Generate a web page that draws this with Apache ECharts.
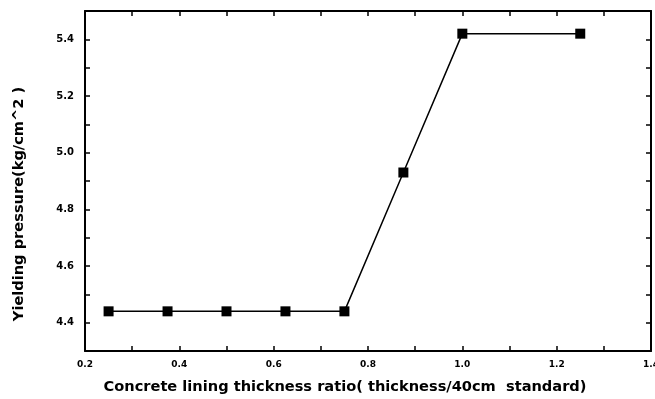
<!DOCTYPE html>
<html>
<head>
<meta charset="utf-8">
<script src="https://cdn.jsdelivr.net/npm/echarts@6/dist/echarts.min.js"></script>
<style>
  html, body { margin: 0; padding: 0; background: #fff; }
  #chart { width: 655px; height: 399px; }
</style>
</head>
<body>
<div id="chart"></div>
<script>
// Thickness ratio (thickness / 40 cm standard) and the yielding pressure reached
var thicknessRatio = [0.25, 0.375, 0.5, 0.625, 0.75, 0.875, 1.0, 1.25];
var yieldingPressure = [4.44, 4.44, 4.44, 4.44, 4.44, 4.93, 5.42, 5.42];
var xTickLabels = ['0.2', '0.4', '0.6', '0.8', '1.0', '1.2', '1.4'];
var yTickLabels = ['4.4', '4.6', '4.8', '5.0', '5.2', '5.4'];

var xTitle = 'Concrete lining thickness ratio( thickness/40cm  standard)';
var yTitle = 'Yielding pressure(kg/cm^2 )';

var FONT = '"DejaVu Sans", Arial, sans-serif';

function labelFor(list, v) {
  var s = v.toFixed(1);
  return list.indexOf(s) >= 0 ? s : '';
}

var points = thicknessRatio.map(function (x, i) { return [x, yieldingPressure[i]]; });

var tickBase = { show: true, inside: true, length: 5, lineStyle: { color: '#000', width: 1.5 } };
var lineBase = { show: true, onZero: false, lineStyle: { color: '#000', width: 2 } };

var chart = echarts.init(document.getElementById('chart'), null, { renderer: 'canvas' });
chart.setOption({
  animation: false,
  backgroundColor: '#fff',
  grid: { left: 85, top: 11, right: 4, bottom: 48, outerBoundsMode: 'none', containLabel: false },
  xAxis: [{
    type: 'value', min: 0.2, max: 1.4, interval: 0.1,
    axisLine: lineBase, axisTick: tickBase, splitLine: { show: false },
    axisLabel: {
      margin: 9, color: '#000', fontFamily: FONT, fontWeight: 'bold', fontSize: 9,
      showMaxLabel: true, hideOverlap: false,
      formatter: function (v) { return labelFor(xTickLabels, v); }
    }
  }, {
    type: 'value', position: 'top', min: 0.2, max: 1.4, interval: 0.1,
    axisLine: lineBase, axisTick: tickBase, axisLabel: { show: false }, splitLine: { show: false }
  }],
  yAxis: [{
    type: 'value', min: 4.3, max: 5.5, interval: 0.1,
    axisLine: lineBase, axisTick: tickBase, splitLine: { show: false },
    axisLabel: {
      margin: 11, color: '#000', fontFamily: FONT, fontWeight: 'bold', fontSize: 10,
      formatter: function (v) { return labelFor(yTickLabels, v); }
    }
  }, {
    type: 'value', position: 'right', min: 4.3, max: 5.5, interval: 0.1,
    axisLine: lineBase, axisTick: tickBase, axisLabel: { show: false }, splitLine: { show: false }
  }],
  graphic: [{
    type: 'text', x: 345, y: 380,
    style: { text: xTitle, fill: '#000', font: 'bold 14.6px ' + FONT, align: 'center', verticalAlign: 'top' }
  }, {
    type: 'text', x: 12, y: 204, rotation: Math.PI / 2,
    style: { text: yTitle, fill: '#000', font: 'bold 14.6px ' + FONT, align: 'center', verticalAlign: 'top' }
  }],
  series: [{
    type: 'line',
    data: points,
    symbol: 'rect',
    symbolSize: 10,
    itemStyle: { color: '#000' },
    lineStyle: { color: '#000', width: 1.5 }
  }]
});
</script>
</body>
</html>
